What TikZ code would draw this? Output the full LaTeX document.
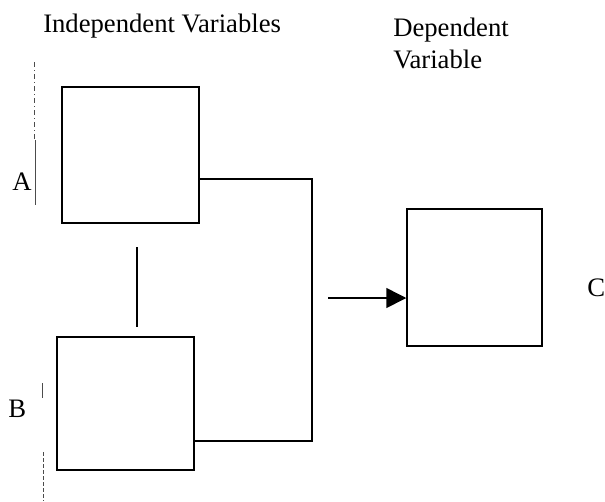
\documentclass[tikz,border=0pt]{standalone}
\usepackage{fontspec}
\setmainfont{Liberation Serif}
\usetikzlibrary{arrows.meta}
\begin{document}
\begin{tikzpicture}[x=0.75pt,y=-0.75pt,
  box/.style={draw=black,line width=1.1pt,minimum width=102.75pt,inner sep=0pt},
  conn/.style={draw=black,line width=1.1pt},
  lbl/.style={inner sep=0pt,font=\fontsize{20}{24}\selectfont},
  scan/.style={draw=black!70,line width=0.6pt}]
\useasboundingbox (0,0) rectangle (605,501);
% boxes
\node[box,minimum height=102pt] (A) at (130.5,155) {};
\node[box,minimum height=99.75pt] (B) at (125.5,403.5) {};
\node[box,minimum width=101.25pt,minimum height=102.75pt] (C) at (474.5,277.5) {};
% labels
\node[lbl,anchor=base west] (tIV) at (43,32) {Independent Variables};
\node[lbl,anchor=base west] (tDV1) at (393,36) {Dependent};
\node[lbl,anchor=base west] (tDV2) at (393,68) {Variable};
\node[lbl,anchor=base west] (tA) at (12,190) {A};
\node[lbl,anchor=base west] (tB) at (8,417) {B};
\node[lbl,anchor=base west] (tC) at (587,296) {C};
% connectors
\coordinate (p1) at (312,179);
\coordinate (p2) at (312,441);
\draw[conn] (A.east |- p1) -- (p1) -- (p2) -- (B.east |- p2);
\coordinate (s) at (328,298);
\draw[conn,-{Triangle[length=15pt,width=15pt]}] (s) -- (C.west |- s);
\coordinate (m1) at (137,247);
\coordinate (m2) at (137,327);
\draw[conn] (m1) -- (m2);
% scan marks at the left
\draw[scan,dash pattern=on 4pt off 2pt on 1pt off 2pt] (34,62) -- (34,140);
\draw[scan] (35,140) -- (35,205);
\draw[scan] (42,383) -- (42,398);
\draw[scan,dash pattern=on 3pt off 1.5pt] (43,452) -- (43,501);
\end{tikzpicture}
\end{document}
